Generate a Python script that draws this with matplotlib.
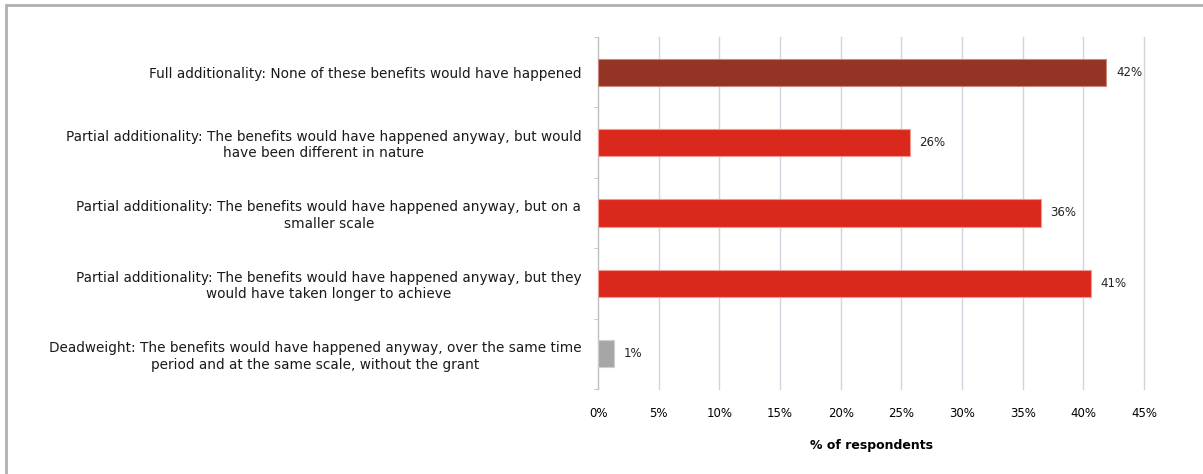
import matplotlib.pyplot as plt
from matplotlib.patches import Rectangle

categories = [
    "Full additionality: None of these benefits would have happened",
    "Partial additionality: The benefits would have happened anyway, but would\nhave been different in nature",
    "Partial additionality: The benefits would have happened anyway, but on a\nsmaller scale",
    "Partial additionality: The benefits would have happened anyway, but they\nwould have taken longer to achieve",
    "Deadweight: The benefits would have happened anyway, over the same time\nperiod and at the same scale, without the grant",
]
values = [41.9, 25.7, 36.5, 40.6, 1.3]
value_labels = ["42%", "26%", "36%", "41%", "1%"]
colors = ["#943424", "#DA291C", "#DA291C", "#DA291C", "#A6A6A6"]
edges = ["#C9877E", "#EE9A92", "#EE9A92", "#EE9A92", "#CFCFCF"]
xticks = [0, 5, 10, 15, 20, 25, 30, 35, 40, 45]

plt.rcParams['font.family'] = ['DejaVu Sans']

fig = plt.figure(figsize=(12.03, 4.74), dpi=100)
W, H = 1203, 474
ax = fig.add_axes([598 / W, 1 - 389 / H, (1144 - 598) / W, (389 - 37) / H])

y = list(range(len(categories)))
ax.barh(y, values, height=0.385, color=colors, edgecolor=edges, linewidth=0.8, zorder=3)
for yi, v, lab in zip(y, values, value_labels):
    ax.text(v + 0.8, yi, lab, va='center', ha='left', fontsize=8.5, color='#222222')

ax.set_ylim(len(categories) - 0.5, -0.5)
ax.set_xlim(0, 45)
ax.set_xticks(xticks)
ax.set_xticklabels([f"{t}%" for t in xticks], fontsize=8.5)
ax.set_yticks(y)
ax.set_yticklabels(categories, fontsize=9.8, color='#1A1A1A')
for lbl in ax.get_yticklabels():
    lbl.set_multialignment('center')

ax.set_yticks([i - 0.5 for i in range(len(categories) + 1)], minor=True)
ax.tick_params(axis='y', which='major', length=0, pad=12)
ax.tick_params(axis='y', which='minor', length=3, color='#BFBFBF')
ax.tick_params(axis='x', length=0, pad=13)

ax.grid(axis='x', color='#D0D4DC', linewidth=1, zorder=0)
for gl in ax.get_xgridlines():
    gl.set_clip_on(False)
for s in ['top', 'right', 'bottom']:
    ax.spines[s].set_visible(False)
ax.spines['left'].set_color('#BFBFBF')

ax.set_xlabel("% of respondents", fontsize=9, fontweight='bold', labelpad=14)

# frame around the chart (top and left visible)
fig.add_artist(Rectangle((6 / W, -0.1), 1.2, 1 - 5 / H + 0.1, transform=fig.transFigure,
                         fill=False, edgecolor='#B0B0B0', linewidth=2))

fig.savefig("out.png", dpi=100)
